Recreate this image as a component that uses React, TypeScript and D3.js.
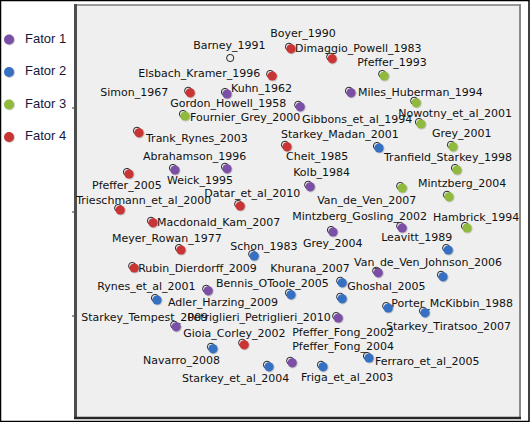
import React from 'react';
import * as d3 from 'd3';

// node labels (MDS map of authors)
const names: string[] = [
  'Dimaggio_Powell_1983', 'Boyer_1990', 'Barney_1991', 'Pfeffer_1993', 'Elsbach_Kramer_1996',
  'Kuhn_1962', 'Simon_1967', 'Miles_Huberman_1994', 'Gordon_Howell_1958', 'Nowotny_et_al_2001',
  'Fournier_Grey_2000', 'Gibbons_et_al_1994', 'Trank_Rynes_2003', 'Starkey_Madan_2001', 'Grey_2001',
  'Cheit_1985', 'Tranfield_Starkey_1998', 'Abrahamson_1996', 'Weick_1995', 'Kolb_1984',
  'Pfeffer_2005', 'Mintzberg_2004', 'Datar_et_al_2010', 'Trieschmann_et_al_2000', 'Van_de_Ven_2007',
  'Hambrick_1994', 'Macdonald_Kam_2007', 'Mintzberg_Gosling_2002', 'Meyer_Rowan_1977', 'Leavitt_1989',
  'Schon_1983', 'Grey_2004', 'Van_de_Ven_Johnson_2006', 'Rubin_Dierdorff_2009', 'Khurana_2007',
  'Rynes_et_al_2001', 'Bennis_OToole_2005', 'Ghoshal_2005', 'Adler_Harzing_2009', 'Porter_McKibbin_1988',
  'Starkey_Tempest_2009', 'Petriglieri_Petriglieri_2010', 'Starkey_Tiratsoo_2007', 'Gioia_Corley_2002', 'Pfeffer_Fong_2002',
  'Pfeffer_Fong_2004', 'Navarro_2008', 'Ferraro_et_al_2005', 'Starkey_et_al_2004', 'Friga_et_al_2003',
];

// factor of each node (0 = none)
const factors: number[] = [
  4, 4, 0, 3, 4,
  1, 4, 1, 1, 3,
  3, 3, 4, 2, 3,
  4, 3, 1, 1, 1,
  4, 3, 4, 4, 3,
  3, 4, 1, 4, 2,
  2, 1, 2, 4, 1,
  1, 2, 2, 2, 2,
  1, 1, 2, 4, 2,
  1, 2, 2, 2, 2,
];

// dimension 1
const dim1: number[] = [
  53.5, 63.8, 38.8, 76.8, 48.8,
  37.5, 28.3, 68.5, 55.8, 84.8,
  27.0, 86.0, 15.5, 75.5, 94.0,
  52.5, 95.0, 24.5, 37.5, 58.3,
  13.0, 93.0, 40.8, 10.8, 81.3,
  97.5, 19.0, 81.3, 26.0, 92.8,
  44.3, 64.0, 91.5, 14.3, 75.3,
  32.8, 53.5, 66.3, 20.0, 77.8,
  24.8, 65.3, 87.0, 41.8, 66.3,
  53.8, 34.0, 73.0, 48.0, 61.5,
];

// dimension 2
const dim2: number[] = [
  91.8, 89.3, 89.0, 85.0, 85.0,
  80.5, 80.8, 80.8, 77.3, 78.3,
  75.0, 73.0, 70.8, 67.0, 67.3,
  67.3, 61.5, 61.5, 61.8, 57.3,
  60.5, 54.8, 52.5, 51.5, 57.0,
  47.0, 48.3, 47.0, 41.5, 41.5,
  40.0, 46.0, 34.8, 37.0, 35.8,
  31.3, 30.3, 33.3, 29.0, 27.0,
  22.3, 24.5, 25.8, 17.8, 29.3,
  13.3, 16.8, 14.5, 12.3, 12.3,
];

const legendLabels: string[] = ['Fator 1', 'Fator 2', 'Fator 3', 'Fator 4'];
const axisTicks: number[] = [25, 51, 77];

// label placement (px offset of label start / centre from node)
const labelOffsets: [number, number][] = [
  [4, -1], [-62, -26], [-39, -15], [-27, -14], [-134, -3],
  [4, -6], [-90, -1], [7, -1], [-130, -4], [-18, 10],
  [5, 1], [-119, -5], [7, 5], [-98, -14], [-21, -14],
  [-1, 9], [-73, -13], [-32, -14], [-60, 11], [-17, -15],
  [-37, 11], [-31, -14], [-36, -13], [-44, -10], [-85, 12],
  [-34, -11], [4, -1], [-110, -12], [-69, -12], [-67, -13],
  [-24, -10], [-30, 11], [-89, -15], [4, 0], [-108, -5],
  [-111, -5], [-75, -12], [5, 3], [11, 2], [3, -5],
  [-95, -10], [-151, -1], [-39, 13], [-61, -12], [-50, 33],
  [0, -17], [-70, 11], [6, 3], [-87, 11], [-22, 10],
];

const factorColors: Record<number, string> = {
  1: '#7b4fa6',
  2: '#346fc2',
  3: '#8fba3d',
  4: '#c93535',
};

const W = 530;
const H = 422;
const frame = { left: 74, top: 4, right: 521, bottom: 419 };

const App: React.FC = () => {
  const x = d3.scaleLinear().domain([0, 110]).range([77, 517]);
  const y = d3.scaleLinear().domain([0, 103]).range([416, 4]);

  const nodes = names.map((name, i) => ({
    name,
    factor: factors[i],
    cx: x(dim1[i]),
    cy: y(dim2[i]),
    off: labelOffsets[i],
  }));

  return (
    <>
      <style>{'body{margin:0}'}</style>
      <svg width={W} height={H} style={{ display: 'block' }} fontFamily="'DejaVu Sans', sans-serif">
        <defs>
          <filter id="soft" x="-50%" y="-50%" width="200%" height="200%">
            <feDropShadow dx="0.6" dy="0.6" stdDeviation="0.6" floodColor="#000" floodOpacity="0.35" />
          </filter>
        </defs>
        <rect x={0} y={0} width={W} height={H} fill="#fff" />

        {/* plot frame */}
        <rect
          x={frame.left}
          y={frame.top}
          width={frame.right - frame.left}
          height={frame.bottom - frame.top}
          fill="#efefef"
        />
        <line x1={frame.left} x2={frame.right} y1={frame.top + 1} y2={frame.top + 1} stroke="#9a9a9a" strokeWidth={2} />
        <line x1={frame.right - 1} x2={frame.right - 1} y1={frame.top} y2={frame.bottom} stroke="#8a8a8a" strokeWidth={2} />
        <line x1={frame.left + 1.5} x2={frame.left + 1.5} y1={frame.top} y2={frame.bottom} stroke="#4d4d4d" strokeWidth={3} />
        <line x1={frame.left} x2={frame.right} y1={frame.bottom - 1} y2={frame.bottom - 1} stroke="#262626" strokeWidth={2.5} />
        {axisTicks.map((t) => (
          <line key={t} x1={frame.left - 2} x2={frame.left} y1={y(t)} y2={y(t)} stroke="#333" strokeWidth={1} />
        ))}

        {/* labels */}
        {nodes.map((n) => (
          <text key={'t' + n.name} x={n.cx + n.off[0]} y={n.cy + n.off[1] + 4} fontSize={11} fill="#111">
            {n.name}
          </text>
        ))}

        {/* open node markers */}
        {nodes.map((n) => (
          <circle key={'o' + n.name} cx={n.cx - 2} cy={n.cy - 2} r={3.6} fill="none" stroke="#222" strokeWidth={1} />
        ))}

        {/* factor dots */}
        {nodes
          .filter((n) => n.factor > 0)
          .map((n) => (
            <circle key={'d' + n.name} cx={n.cx} cy={n.cy} r={4.6} fill={factorColors[n.factor]} filter="url(#soft)" />
          ))}

        {/* legend */}
        {legendLabels.map((lab, i) => (
          <g key={lab} transform={`translate(9, ${39.5 + i * 32.5})`}>
            <circle r={5} fill={factorColors[i + 1]} filter="url(#soft)" />
            <text x={16} y={3} fontSize={13} fontFamily="'Liberation Sans', Arial, sans-serif" fill="#14183c">
              {lab}
            </text>
          </g>
        ))}

        <rect x={0.5} y={0.5} width={W - 1.5} height={H - 1} fill="none" stroke="#000" strokeWidth={1.5} />
      </svg>
    </>
  );
};

export default App;
